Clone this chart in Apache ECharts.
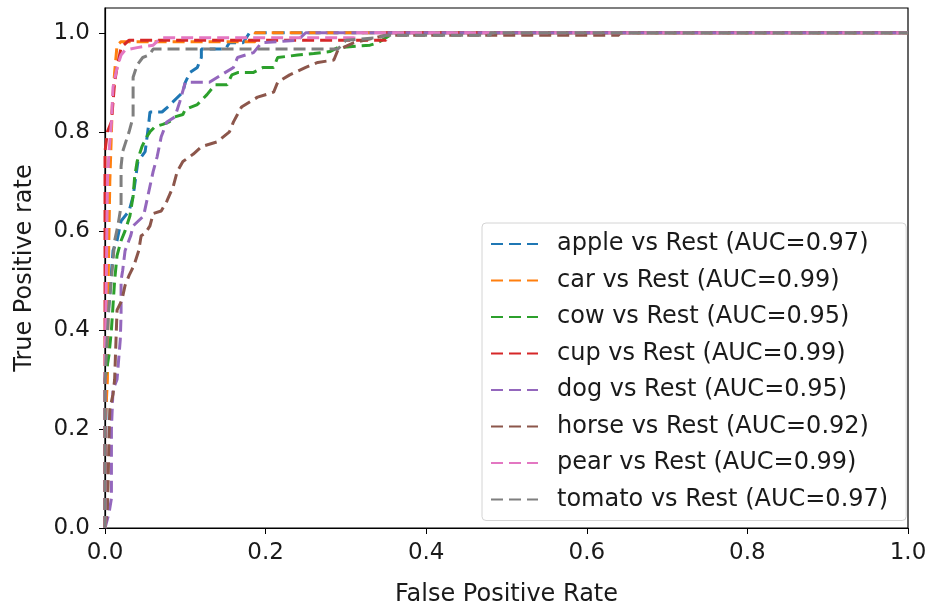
<!DOCTYPE html>
<html>
<head>
<meta charset="utf-8">
<script src="https://cdn.jsdelivr.net/npm/echarts@6/dist/echarts.min.js"></script>
<style>
  html, body { margin: 0; padding: 0; background: #fff; }
  #chart { width: 927px; height: 609px; }
</style>
</head>
<body>
<div id="chart"></div>
<script>
// ROC curves, one class vs rest
var classes = ['apple', 'car', 'cow', 'cup', 'dog', 'horse', 'pear', 'tomato'];
var aucs = ['0.97', '0.99', '0.95', '0.99', '0.95', '0.92', '0.99', '0.97'];
var colors = ['#1f77b4', '#ff7f0e', '#2ca02c', '#d62728', '#9467bd', '#8c564b', '#e377c2', '#7f7f7f'];
var tickValues = [0, 0.2, 0.4, 0.6, 0.8, 1.0];

var appleFpr = [0, 0, 0.003, 0.006, 0.01, 0.015, 0.02, 0.03, 0.035, 0.041, 0.05, 0.054, 0.056, 0.071, 0.078, 0.097, 0.1, 0.106, 0.115, 0.12, 0.12, 0.15, 0.155, 0.172, 0.18, 1];
var appleTpr = [0, 0.1, 0.42, 0.47, 0.56, 0.58, 0.62, 0.64, 0.67, 0.74, 0.76, 0.81, 0.84, 0.84, 0.85, 0.88, 0.9, 0.92, 0.93, 0.95, 0.967, 0.967, 0.98, 0.98, 1, 1];

var carFpr = [0, 0, 0.003, 0.004, 0.006, 0.009, 0.012, 0.015, 0.02, 0.187, 0.187, 1];
var carTpr = [0, 0.2, 0.3, 0.5, 0.7, 0.85, 0.92, 0.975, 0.982, 0.982, 1, 1];

var cowFpr = [0, 0, 0.005, 0.008, 0.01, 0.012, 0.015, 0.02, 0.025, 0.031, 0.035, 0.037, 0.04, 0.046, 0.052, 0.056, 0.062, 0.072, 0.08, 0.087, 0.097, 0.1, 0.115, 0.127, 0.137, 0.152, 0.158, 0.166, 0.185, 0.197, 0.21, 0.215, 0.24, 0.26, 0.28, 0.29, 0.33, 0.34, 0.36, 1];
var cowTpr = [0, 0.3, 0.35, 0.4, 0.45, 0.5, 0.55, 0.58, 0.6, 0.63, 0.67, 0.71, 0.74, 0.77, 0.79, 0.8, 0.81, 0.815, 0.82, 0.83, 0.835, 0.845, 0.855, 0.875, 0.895, 0.895, 0.915, 0.92, 0.92, 0.93, 0.93, 0.95, 0.955, 0.958, 0.962, 0.97, 0.975, 0.98, 1, 1];

var cupFpr = [0, 0, 0.003, 0.008, 0.01, 0.012, 0.015, 0.02, 0.03, 0.35, 0.35, 1];
var cupTpr = [0, 0.76, 0.8, 0.82, 0.86, 0.9, 0.93, 0.97, 0.985, 0.985, 1, 1];

var dogFpr = [0, 0.005, 0.008, 0.008, 0.01, 0.015, 0.017, 0.019, 0.02, 0.02, 0.022, 0.025, 0.032, 0.035, 0.048, 0.052, 0.056, 0.06, 0.065, 0.07, 0.077, 0.087, 0.093, 0.1, 0.13, 0.16, 0.165, 0.185, 0.195, 0.24, 0.25, 1];
var dogTpr = [0, 0.03, 0.06, 0.2, 0.28, 0.3, 0.34, 0.38, 0.43, 0.5, 0.52, 0.56, 0.59, 0.61, 0.63, 0.66, 0.69, 0.72, 0.75, 0.79, 0.82, 0.83, 0.86, 0.9, 0.9, 0.93, 0.95, 0.96, 0.98, 0.985, 1, 1];

var horseFpr = [0, 0.003, 0.004, 0.005, 0.006, 0.01, 0.012, 0.015, 0.021, 0.025, 0.03, 0.036, 0.042, 0.045, 0.05, 0.056, 0.06, 0.07, 0.077, 0.085, 0.09, 0.097, 0.11, 0.12, 0.14, 0.155, 0.16, 0.17, 0.19, 0.21, 0.215, 0.23, 0.25, 0.265, 0.285, 0.29, 0.31, 0.35, 0.64, 0.64, 1];
var horseTpr = [0, 0.04, 0.1, 0.19, 0.24, 0.27, 0.3, 0.44, 0.46, 0.49, 0.51, 0.53, 0.56, 0.59, 0.595, 0.61, 0.635, 0.64, 0.66, 0.69, 0.72, 0.74, 0.755, 0.77, 0.78, 0.8, 0.82, 0.85, 0.87, 0.88, 0.9, 0.915, 0.93, 0.94, 0.945, 0.965, 0.98, 0.995, 0.995, 1, 1];

var pearFpr = [0, 0, 0.002, 0.003, 0.005, 0.008, 0.01, 0.015, 0.02, 0.025, 0.04, 0.06, 0.07, 0.31, 0.31, 1];
var pearTpr = [0, 0.3, 0.55, 0.7, 0.76, 0.82, 0.89, 0.93, 0.955, 0.965, 0.97, 0.975, 0.99, 0.99, 1, 1];

var tomatoFpr = [0, 0, 0.005, 0.01, 0.012, 0.016, 0.02, 0.02, 0.022, 0.03, 0.035, 0.035, 0.04, 0.047, 0.055, 0.06, 0.29, 0.3, 0.34, 0.35, 0.48, 0.48, 1];
var tomatoTpr = [0, 0.3, 0.45, 0.54, 0.58, 0.61, 0.65, 0.73, 0.76, 0.8, 0.83, 0.91, 0.935, 0.95, 0.955, 0.967, 0.967, 0.985, 0.99, 0.995, 0.995, 1, 1];

var fprs = [appleFpr, carFpr, cowFpr, cupFpr, dogFpr, horseFpr, pearFpr, tomatoFpr];
var tprs = [appleTpr, carTpr, cowTpr, cupTpr, dogTpr, horseTpr, pearTpr, tomatoTpr];

var FONT = 'DejaVu Sans';
var TXT = '#1a1a1a';

var chart = echarts.init(document.getElementById('chart'));

var series = [];
for (var i = 0; i < classes.length; i++) {
  var pts = [];
  for (var j = 0; j < fprs[i].length; j++) {
    pts.push([fprs[i][j], tprs[i][j]]);
  }
  series.push({
    name: classes[i] + ' vs Rest (AUC=' + aucs[i] + ')',
    type: 'line',
    data: pts,
    symbol: 'none',
    animation: false,
    lineStyle: { color: colors[i], width: 3, type: [12, 6] },
    itemStyle: { color: colors[i] }
  });
}

var option = {
  animation: false,
  backgroundColor: '#fff',
  grid: {
    left: 105, right: 19, top: 8, bottom: 81,
    show: true, borderColor: '#000', borderWidth: 1.2,
    outerBoundsMode: 'none'
  },
  legend: {
    orient: 'vertical',
    left: 482, top: 223,
    padding: [9, 18, 9, 8],
    itemWidth: 47, itemHeight: 14, itemGap: 12.5,
    backgroundColor: 'rgba(255,255,255,0.85)',
    borderColor: '#d4d4d4', borderWidth: 1, borderRadius: 4,
    itemStyle: { opacity: 0 },
    textStyle: { fontFamily: FONT, fontSize: 24, color: TXT, lineHeight: 23.8, padding: [0, 0, 0, 14] },
    data: series.map(function (s) { return s.name; })
  },
  xAxis: {
    type: 'value', min: 0, max: 1,
    name: 'False Positive Rate', nameLocation: 'middle', nameGap: 55,
    nameTextStyle: { fontFamily: FONT, fontSize: 24, color: TXT },
    axisLine: { show: true, lineStyle: { color: '#000', width: 1.2 } },
    axisTick: { show: true, inside: false, length: 6, lineStyle: { color: '#000' }, customValues: tickValues },
    axisLabel: { fontFamily: FONT, fontSize: 23, color: TXT, margin: 14, customValues: tickValues,
      formatter: function (v) { return v.toFixed(1); } },
    splitLine: { show: false }
  },
  yAxis: {
    type: 'value', min: 0, max: 1.05,
    name: 'True Positive rate', nameLocation: 'middle', nameGap: 68,
    nameTextStyle: { fontFamily: FONT, fontSize: 24, color: TXT },
    axisLine: { show: true, lineStyle: { color: '#000', width: 1.2 } },
    axisTick: { show: true, inside: false, length: 6, lineStyle: { color: '#000' }, customValues: tickValues },
    axisLabel: { fontFamily: FONT, fontSize: 23, color: TXT, margin: 15, customValues: tickValues,
      formatter: function (v) { return v.toFixed(1); } },
    splitLine: { show: false }
  },
  series: series
};

chart.setOption(option);
</script>
</body>
</html>
